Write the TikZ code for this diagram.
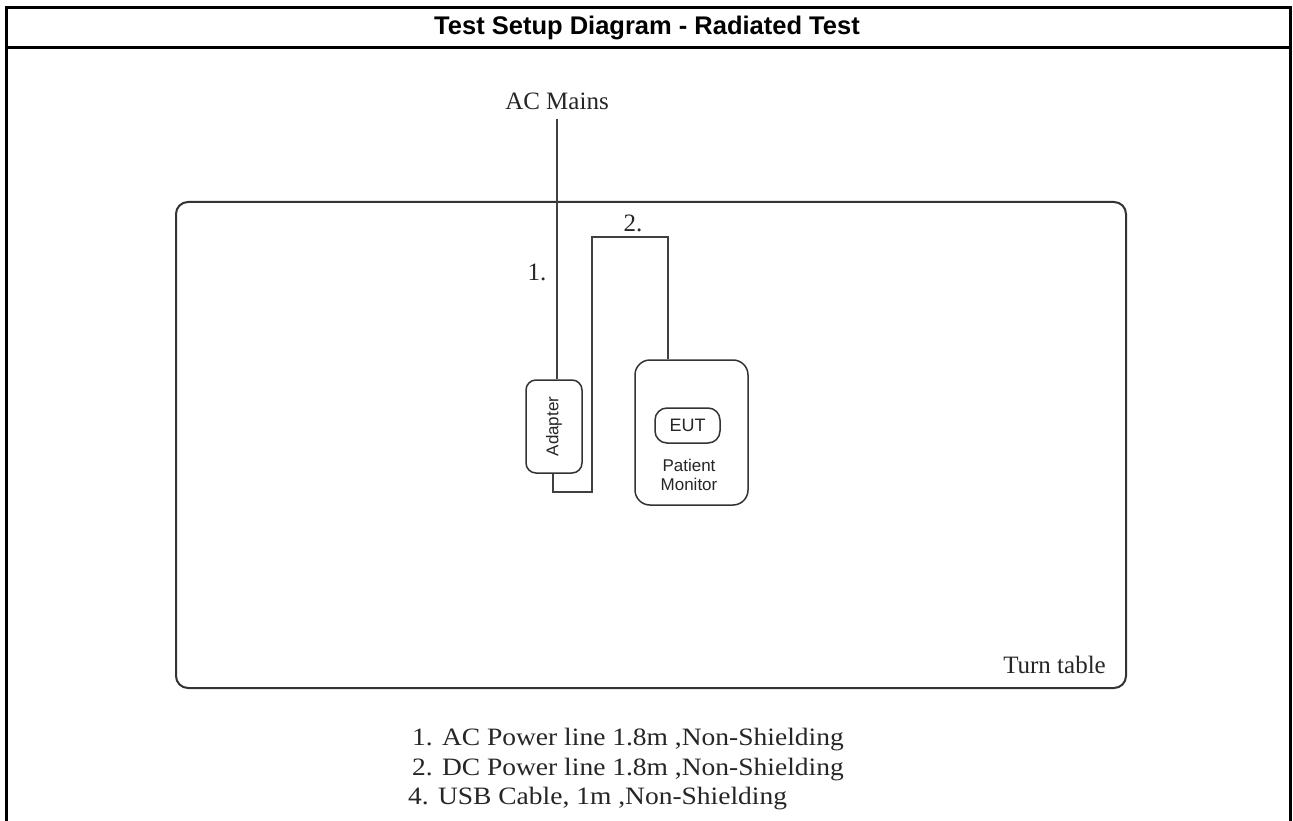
\documentclass[tikz,border=0pt]{standalone}
\usepackage{fontspec}
\setmainfont{Liberation Serif}
\setsansfont{Liberation Sans}
\begin{document}
\begin{tikzpicture}[x=1pt,y=-1pt,
  frame/.style={line width=3pt,black},
  cable/.style={line width=1.5pt,black!75},
  boxr/.style={draw=black!80,line width=1.5pt,rounded corners=#1},
  serif/.style={font=\fontsize{25}{30}\selectfont,text=black!85,inner sep=0pt},
  sanslbl/.style={font=\sffamily\fontsize{17}{20}\selectfont,text=black!85,inner sep=0pt}]
\useasboundingbox (0,0) rectangle (1293,821);
\fill[white] (0,0) rectangle (1293,821);
% outer frame
\draw[frame] (6.5,821) -- (6.5,7.5) -- (1290.5,7.5) -- (1290.5,821);
\draw[frame] (6.5,48) -- (1290.5,48);
\node[font=\sffamily\bfseries\fontsize{25.5}{28}\selectfont,inner sep=0pt] (title) at (647,28) {Test Setup Diagram - Radiated Test};
% turn table
\draw[boxr=12pt,line width=2pt] (176,202) rectangle (1126,688);
\node[serif,anchor=base east] (tt) at (1106,673) {Turn table};
% AC Mains
\node[serif] (acm) at (557,101) {AC Mains};
% adapter
\node[boxr=10pt,minimum width=56pt,minimum height=93pt,inner sep=0pt] (adp) at (554,426.5) {};
\node[sanslbl,rotate=90] (adptxt) at (adp.center) {Adapter};
% monitor
\node[boxr=15pt,minimum width=113pt,minimum height=145pt,inner sep=0pt] (mon) at (691.5,432.5) {};
\node[boxr=12pt,minimum width=65pt,minimum height=35pt,inner sep=0pt,font=\sffamily\fontsize{18}{20}\selectfont,text=black!85] (eut) at (687.5,425.5) {EUT};
\node[sanslbl,align=center] (pm) at (689,475) {Patient\\[-1pt]Monitor};
% cables
\draw[cable] (557,119) -- (adp.north -| 557,0);
\coordinate (d1) at (553,492);
\coordinate (d2) at (592,492);
\coordinate (d3) at (592,237);
\coordinate (d4) at (668,237);
\draw[cable] (adp.south -| d1) -- (d1) -- (d2) -- (d3) -- (d4) -- (d4 |- mon.north);
\node[serif] (l1) at (537,272) {1.};
\node[serif] (l2) at (633,223) {2.};
% legend
\node[serif,anchor=base west,xscale=1.1,transform shape] (leg1) at (412,745) {1. AC Power line 1.8m ,Non-Shielding};
\node[serif,anchor=base west,xscale=1.1,transform shape] (leg2) at (412,775) {2. DC Power line 1.8m ,Non-Shielding};
\node[serif,anchor=base west,xscale=1.1,transform shape] (leg3) at (408,804) {4. USB Cable, 1m ,Non-Shielding};
\end{tikzpicture}
\end{document}
